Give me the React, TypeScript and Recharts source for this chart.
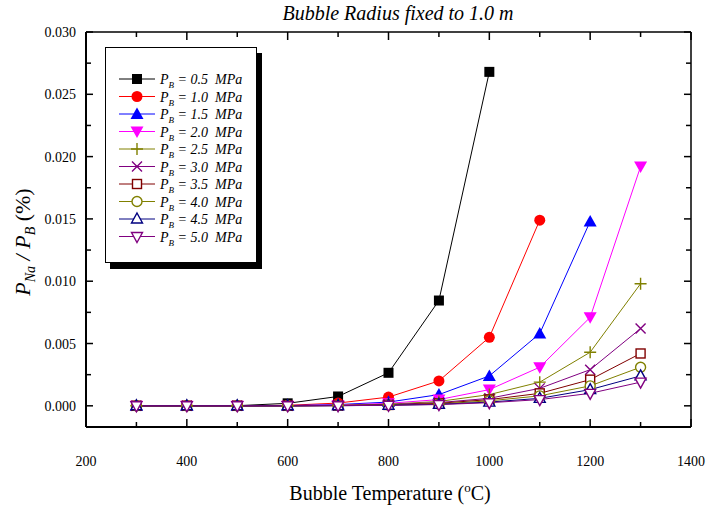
import { LineChart, Line, XAxis, YAxis } from "recharts";

const temps = [300, 400, 500, 600, 700, 800, 900, 1000, 1100, 1200, 1300];

const p05 = [0, 0, 0.00001, 0.0002, 0.00075, 0.00265, 0.00845, 0.0268];
const p10 = [0, 0, 0, 0.00004, 0.00022, 0.0007, 0.002, 0.0055, 0.0149];
const p15 = [0, 0, 0, 0.00002, 0.0001, 0.0003, 0.0009, 0.0024, 0.0058, 0.0148];
const p20 = [0, 0, 0, 0.00001, 0.00006, 0.0002, 0.0005, 0.0013, 0.0031, 0.0071, 0.0192];
const p25 = [0, 0, 0, 0, 0.00004, 0.00013, 0.00035, 0.0009, 0.0019, 0.0043, 0.0098];
const p30 = [0, 0, 0, 0, 0.00003, 0.0001, 0.00026, 0.0006, 0.0014, 0.0029, 0.0062];
const p35 = [0, 0, 0, 0, 0.00002, 0.00007, 0.0002, 0.0005, 0.001, 0.0021, 0.0042];
const p40 = [0, 0, 0, 0, 0.00002, 0.00006, 0.00015, 0.0004, 0.0008, 0.0016, 0.0031];
const p45 = [0, 0, 0, 0, 0.00001, 0.00005, 0.00012, 0.0003, 0.0006, 0.0013, 0.0024];
const p50 = [0, 0, 0, 0, 0.00001, 0.00004, 0.0001, 0.00025, 0.0005, 0.001, 0.0019];

const pressureLabels = ["0.5", "1.0", "1.5", "2.0", "2.5", "3.0", "3.5", "4.0", "4.5", "5.0"];
const seriesValues = [p05, p10, p15, p20, p25, p30, p35, p40, p45, p50];

const xTicks = [200, 300, 400, 500, 600, 700, 800, 900, 1000, 1100, 1200, 1300, 1400];
const yTicks = [0, 0.0025, 0.005, 0.0075, 0.01, 0.0125, 0.015, 0.0175, 0.02, 0.0225, 0.025, 0.0275, 0.03];

const colors = ["#000000", "#ff0000", "#0000ff", "#ff00ff", "#808000", "#800080", "#800000", "#808000", "#000080", "#800080"];
const markers = ["square", "circle", "triangle", "down", "plus", "cross", "osquare", "ocircle", "otriangle", "odown"];

const FONT = "'Liberation Serif', 'Times New Roman', serif";

const series = pressureLabels.map((p, i) => ({
  key: `p${i}`,
  label: p,
  color: colors[i],
  marker: markers[i],
  data: seriesValues[i].map((v, j) => ({ T: temps[j], v })),
}));

function Marker({ cx, cy, kind, color }: { cx: number; cy: number; kind: string; color: string }) {
  const sw = 1.4;
  switch (kind) {
    case "square":
      return <rect x={cx - 5} y={cy - 5} width={10} height={10} fill={color} />;
    case "circle":
      return <circle cx={cx} cy={cy} r={5.5} fill={color} />;
    case "triangle":
      return <polygon points={`${cx},${cy - 6.5} ${cx + 6.5},${cy + 5} ${cx - 6.5},${cy + 5}`} fill={color} />;
    case "down":
      return <polygon points={`${cx},${cy + 6.5} ${cx + 6.5},${cy - 5} ${cx - 6.5},${cy - 5}`} fill={color} />;
    case "plus":
      return <path d={`M${cx - 6},${cy} H${cx + 6} M${cx},${cy - 6} V${cy + 6}`} stroke={color} strokeWidth={sw} />;
    case "cross":
      return <path d={`M${cx - 5},${cy - 5} L${cx + 5},${cy + 5} M${cx - 5},${cy + 5} L${cx + 5},${cy - 5}`} stroke={color} strokeWidth={sw} />;
    case "osquare":
      return <rect x={cx - 4.5} y={cy - 4.5} width={9} height={9} fill="#fff" stroke={color} strokeWidth={sw} />;
    case "ocircle":
      return <circle cx={cx} cy={cy} r={5} fill="#fff" stroke={color} strokeWidth={sw} />;
    case "otriangle":
      return <polygon points={`${cx},${cy - 6} ${cx + 5.5},${cy + 4} ${cx - 5.5},${cy + 4}`} fill="#fff" stroke={color} strokeWidth={sw} />;
    case "odown":
      return <polygon points={`${cx},${cy + 6} ${cx + 5.5},${cy - 4} ${cx - 5.5},${cy - 4}`} fill="#fff" stroke={color} strokeWidth={sw} />;
    default:
      return null;
  }
}

const isMajorX = (v: number) => v % 200 === 0;
const isMajorY = (v: number) => Math.abs(v * 200 - Math.round(v * 200)) < 1e-6;

function BottomTick(props: any) {
  const { x, y, payload } = props;
  const v = payload.value;
  const major = isMajorX(v);
  return (
    <g>
      <line x1={x} x2={x} y1={y} y2={y - (major ? 8 : 5)} stroke="#000" strokeWidth={1.5} />
      {major && (
        <text x={x} y={y + 39} textAnchor="middle" fontSize={14} fontFamily={FONT} fill="#000">
          {v}
        </text>
      )}
    </g>
  );
}

function TopTick(props: any) {
  const { x, y, payload } = props;
  const major = isMajorX(payload.value);
  return <line x1={x} x2={x} y1={y} y2={y + (major ? 8 : 5)} stroke="#000" strokeWidth={1.5} />;
}

function LeftTick(props: any) {
  const { x, y, payload } = props;
  const v = payload.value;
  const major = isMajorY(v);
  return (
    <g>
      <line x1={x} x2={x + (major ? 7 : 5)} y1={y} y2={y} stroke="#000" strokeWidth={1.5} />
      {major && (
        <text x={x - 10} y={y + 5} textAnchor="end" fontSize={14} fontFamily={FONT} fill="#000">
          {v.toFixed(3)}
        </text>
      )}
    </g>
  );
}

function RightTick(props: any) {
  const { x, y, payload } = props;
  const major = isMajorY(payload.value);
  return <line x1={x} x2={x - (major ? 7 : 5)} y1={y} y2={y} stroke="#000" strokeWidth={1.5} />;
}

function LegendBox() {
  return (
    <div
      style={{
        position: "absolute",
        left: 105,
        top: 47,
        width: 150,
        height: 214,
        border: "1px solid #000",
        background: "#fff",
        boxShadow: "5px 6px 0 #000",
      }}
    >
      <svg width={150} height={214} style={{ display: "block" }}>
        {series.map((s, i) => {
          const cy = 31 + i * 17.5;
          return (
            <g key={s.key}>
              <line x1={13} x2={49} y1={cy} y2={cy} stroke={s.color} strokeWidth={1} />
              <Marker cx={31} cy={cy} kind={s.marker} color={s.color} />
              <text x={54} y={cy + 5} fontSize={14} fontStyle="italic" fontFamily={FONT} fill="#000" style={{ whiteSpace: "pre" }}>
                P
                <tspan fontSize={9} dy={4}>B</tspan>
                <tspan dy={-4}>{` = ${s.label}  MPa`}</tspan>
              </text>
            </g>
          );
        })}
      </svg>
    </div>
  );
}

function YLabel() {
  return (
    <text transform="translate(30,242) rotate(-90)" textAnchor="middle" fontSize={22} fontFamily={FONT} fill="#000">
      <tspan fontStyle="italic">P</tspan>
      <tspan fontStyle="italic" fontSize={14} dy={5}>Na</tspan>
      <tspan fontStyle="italic" dy={-5}> / P</tspan>
      <tspan fontStyle="italic" fontSize={14} dy={5}>B</tspan>
      <tspan dy={-5}> (%)</tspan>
    </text>
  );
}

function XLabel() {
  return (
    <text x={390} y={500} textAnchor="middle" fontSize={20} fontFamily={FONT} fill="#000">
      Bubble Temperature (<tspan fontSize={13} dy={-8}>o</tspan>
      <tspan dy={8}>C)</tspan>
    </text>
  );
}

function Title() {
  return (
    <text x={398} y={20} textAnchor="middle" fontSize={20} fontStyle="italic" fontFamily={FONT} fill="#000">
      Bubble Radius fixed to 1.0 m
    </text>
  );
}

export default function App() {
  return (
    <div style={{ position: "absolute", left: 0, top: 0, width: 709, height: 514, background: "#fff" }}>
      <LineChart width={709} height={514} margin={{ top: 22, right: 8, bottom: 57, left: 56 }}>
        <XAxis
          xAxisId="b"
          dataKey="T"
          type="number"
          domain={[200, 1400]}
          ticks={xTicks}
          height={30}
          tickSize={0}
          tickMargin={0}
          tickLine={false}
          tick={<BottomTick />}
          axisLine={{ stroke: "#000", strokeWidth: 2 }}
          interval={0}
          label={{ content: () => <XLabel /> }}
          allowDataOverflow
        />
        <XAxis
          xAxisId="t"
          orientation="top"
          dataKey="T"
          type="number"
          domain={[200, 1400]}
          ticks={xTicks}
          height={10}
          tickSize={0}
          tickMargin={0}
          tickLine={false}
          tick={<TopTick />}
          axisLine={{ stroke: "#000", strokeWidth: 1.5 }}
          interval={0}
          label={{ content: () => <Title /> }}
          allowDataOverflow
        />
        <YAxis
          yAxisId="l"
          type="number"
          domain={[-0.0017, 0.03]}
          ticks={yTicks}
          width={30}
          tickSize={0}
          tickMargin={0}
          tickLine={false}
          tick={<LeftTick />}
          axisLine={{ stroke: "#000", strokeWidth: 2 }}
          interval={0}
          label={{ content: () => <YLabel /> }}
          allowDataOverflow
        />
        <YAxis
          yAxisId="r"
          orientation="right"
          type="number"
          domain={[-0.0017, 0.03]}
          ticks={yTicks}
          width={10}
          tickSize={0}
          tickMargin={0}
          tickLine={false}
          tick={<RightTick />}
          axisLine={{ stroke: "#000", strokeWidth: 1.5 }}
          interval={0}
          allowDataOverflow
        />
        {series.map((s) => (
          <Line
            key={s.key}
            xAxisId="b"
            yAxisId="l"
            data={s.data}
            dataKey="v"
            name={s.label}
            type="linear"
            stroke={s.color}
            strokeWidth={1}
            isAnimationActive={false}
            dot={(p: any) => <Marker key={`${s.key}-${p.index}`} cx={p.cx} cy={p.cy} kind={s.marker} color={s.color} />}
            activeDot={false}
          />
        ))}
      </LineChart>
      <LegendBox />
    </div>
  );
}
